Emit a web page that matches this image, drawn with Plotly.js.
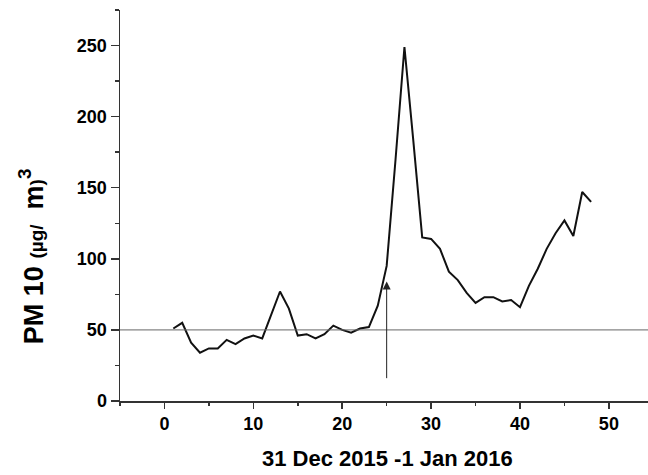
<!DOCTYPE html>
<html>
<head>
<meta charset="utf-8">
<script src="https://cdn.plot.ly/plotly-3.0.1.min.js"></script>
<style>html,body{margin:0;padding:0;overflow:hidden;background:#fff;}</style>
</head>
<body>
<div id="chart" style="width:648px;height:475px;"></div>
<script>
// Hour index (31 Dec 2015 - 1 Jan 2016)
const hours = [1,2,3,4,5,6,7,8,9,10,11,12,13,14,15,16,17,18,19,20,21,22,23,24,25,26,27,28,29,30,31,32,33,34,35,36,37,38,39,40,41,42,43,44,45,46,47,48];
// PM10 concentration (µg/m3)
const pm10 = [51,55,41,34,37,37,43,40,44,46,44,61,77,65,46,47,44,47,53,50,48,51,52,67,95,170,249,183,115,114,107,91,85,76,69,73,73,70,71,66,81,93,107,118,127,116,147,140];
// Limit value line and marker arrow
const limitValue = 50;
const arrowX = 25, arrowFrom = 15, arrowTo = 84;
const xTicks = [0,10,20,30,40,50];
const yTicks = [0,50,100,150,200,250];

const fontFam = '"Liberation Sans", Arial, sans-serif';
const axisColor = '#333';

const trace = {
  x: hours, y: pm10, type: 'scatter', mode: 'lines',
  line: {color: '#111', width: 2}, hoverinfo: 'x+y'
};

const layout = {
  width: 648, height: 475,
  margin: {l: 120, r: 0, t: 10, b: 74},
  paper_bgcolor: '#fff', plot_bgcolor: '#fff',
  showlegend: false,
  font: {family: fontFam, color: '#000'},
  xaxis: {
    range: [-5, 54.4], showgrid: false, zeroline: false,
    showline: true, linecolor: axisColor, linewidth: 1.5,
    ticks: 'outside', ticklen: 6, tickwidth: 1.5, tickcolor: axisColor,
    tickmode: 'array', tickvals: xTicks, ticktext: xTicks.map(String),
    tickfont: {family: fontFam, size: 18, weight: 'bold', color: '#000'},
    minor: {dtick: 5, tick0: 0, ticks: 'outside', ticklen: 3, tickwidth: 1.5, tickcolor: axisColor, showgrid: false}
  },
  yaxis: {
    range: [0, 275], showgrid: false, zeroline: false,
    showline: true, linecolor: axisColor, linewidth: 1.5,
    ticks: 'outside', ticklen: 8, tickwidth: 1.5, tickcolor: axisColor,
    tickmode: 'array', tickvals: yTicks, ticktext: yTicks.map(String),
    tickfont: {family: fontFam, size: 18, weight: 'bold', color: '#000'},
    minor: {dtick: 25, tick0: 0, ticks: 'outside', ticklen: 4, tickwidth: 1.5, tickcolor: axisColor, showgrid: false}
  },
  shapes: [{
    type: 'line', xref: 'paper', x0: 0, x1: 1, yref: 'y', y0: limitValue, y1: limitValue,
    line: {color: '#666', width: 1}
  }],
  annotations: [
    {
      x: arrowX, y: arrowTo, ax: arrowX, ay: arrowFrom, xref: 'x', yref: 'y', axref: 'x', ayref: 'y',
      text: '', showarrow: true, arrowhead: 2, arrowsize: 1.6, arrowwidth: 1, arrowcolor: '#222', standoff: 0
    },
    {
      xref: 'paper', yref: 'paper', x: 0.506, y: -0.148, xanchor: 'center', yanchor: 'middle',
      showarrow: false, text: '31 Dec 2015 -1 Jan 2016',
      font: {family: fontFam, size: 22, weight: 'bold', color: '#000'}
    },
    {
      xref: 'paper', yref: 'paper', x: -0.167, y: 0.37, xanchor: 'center', yanchor: 'middle',
      showarrow: false, textangle: -90,
      text: 'PM 10 <span style="font-size:19px">(µg/</span>&nbsp; m<span style="font-size:19px">)</span><sup>3</sup>',
      font: {family: fontFam, size: 27, weight: 'bold', color: '#000'}
    }
  ]
};

Plotly.newPlot('chart', [trace], layout, {displayModeBar: false, staticPlot: true});
</script>
</body>
</html>
